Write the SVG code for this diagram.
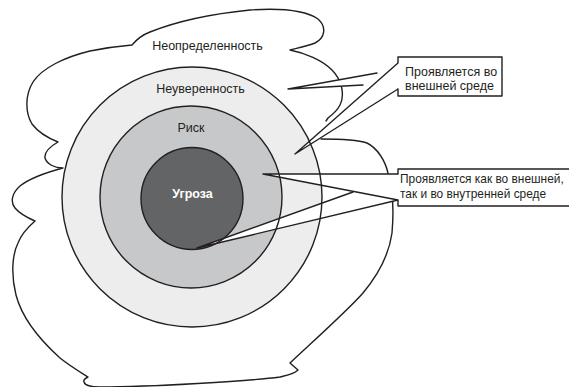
<svg xmlns="http://www.w3.org/2000/svg" width="569" height="387" viewBox="0 0 569 387">
<style>
.ln{fill:none;stroke:#231f20;stroke-width:1.4;stroke-linejoin:round;stroke-linecap:round}
.wf{fill:#ffffff;stroke:none}
.t{font-family:"Liberation Sans",Arial,sans-serif;font-size:12.5px;fill:#231f20}
.s{font-size:11.9px}
.c{text-anchor:middle}
.w{fill:#ffffff;font-weight:bold}
</style>
<rect width="569" height="387" fill="#ffffff"/>
<g id="uncertainty-zone">
<path class="ln" d="M321,139 C335,139 358,140 367,143 C377,148 385,160 388,173 C393,190 394,210 392,233 C389,255 378,275 363,293 C350,308 320,335 290,363 L298,370 C294,374 288,375 280,377 C250,381 150,387 100,387 C93,387 85,386 84,382 C83,380 86,378 88,377 C80,372 70,366 60,358 C40,340 22,318 16,295 C11,275 12,255 18,243 C21,235 27,228 35,221 C28,218 20,214 15,208 C10,202 12,193 20,186 C30,178 48,172 63,168 C54,168 47,164 45,158 C44,151 51,146 58,142 C48,138 38,132 32,124 C25,112 25,95 33,82 C42,68 65,57 90,51 C105,48 120,46 132,45 C137,39 142,35 150,32 C175,22 210,14 250,10 C280,8 305,10 318,19 C327,27 325,38 315,43 C308,46 298,48 290,50 C305,53 322,60 332,70 C342,80 345,95 340,105 C337,111 332,115 328,118 L326,121"/>
<text class="t c" x="207.5" y="50">Неопределенность</text>
</g>
<g id="zone-fills">
<circle id="fill-doubt" cx="192" cy="197" r="130" fill="#ededee"/>
<circle id="fill-risk" cx="191" cy="197" r="91" fill="#c7c8ca"/>
<circle id="fill-threat" cx="192" cy="198.5" r="51" fill="#636466"/>
</g>
<g id="connectors">
<path class="wf" d="M288,89 L377,73 L363,85 Z"/>
<path class="ln" d="M377,73 L288,89 L363,85"/>
<path class="wf" d="M398,63 L295,154 L398,89 Z"/>
<path class="ln" d="M398,63 L295,154 L398,89"/>
<path class="wf" d="M398,174 L263,174 L353,192 L197,248 L398,200 Z"/>
<path class="ln" d="M398,174 L263,174 L398,200 M197,248 L353,192 M197,248 L398,200"/>
</g>
<g id="doubt">
<circle class="ln" cx="192" cy="197" r="130"/>
<text class="t c" x="200.5" y="93">Неуверенность</text>
</g>
<g id="risk">
<circle class="ln" cx="191" cy="197" r="91"/>
<text class="t c" x="191" y="132">Риск</text>
</g>
<g id="threat">
<circle class="ln" cx="192" cy="198.5" r="51"/>
<text class="t c w" x="192.5" y="198">Угроза</text>
</g>
<g id="callout-external">
<rect class="wf" x="398" y="57" width="104" height="39"/>
<path class="ln" d="M398,63 V57 H502 V96 H398 V89"/>
<text class="t" x="405" y="75.5">Проявляется во</text>
<text class="t" x="405" y="89.5">внешней среде</text>
</g>
<g id="callout-both">
<rect class="wf" x="398" y="169" width="180" height="37"/>
<path class="ln" d="M398,174 V169 H580 M580,206 H398 V200"/>
<text class="t s" x="400" y="183">Проявляется как во внешней,</text>
<text class="t s" x="400" y="197.5">так и во внутренней среде</text>
</g>
</svg>
